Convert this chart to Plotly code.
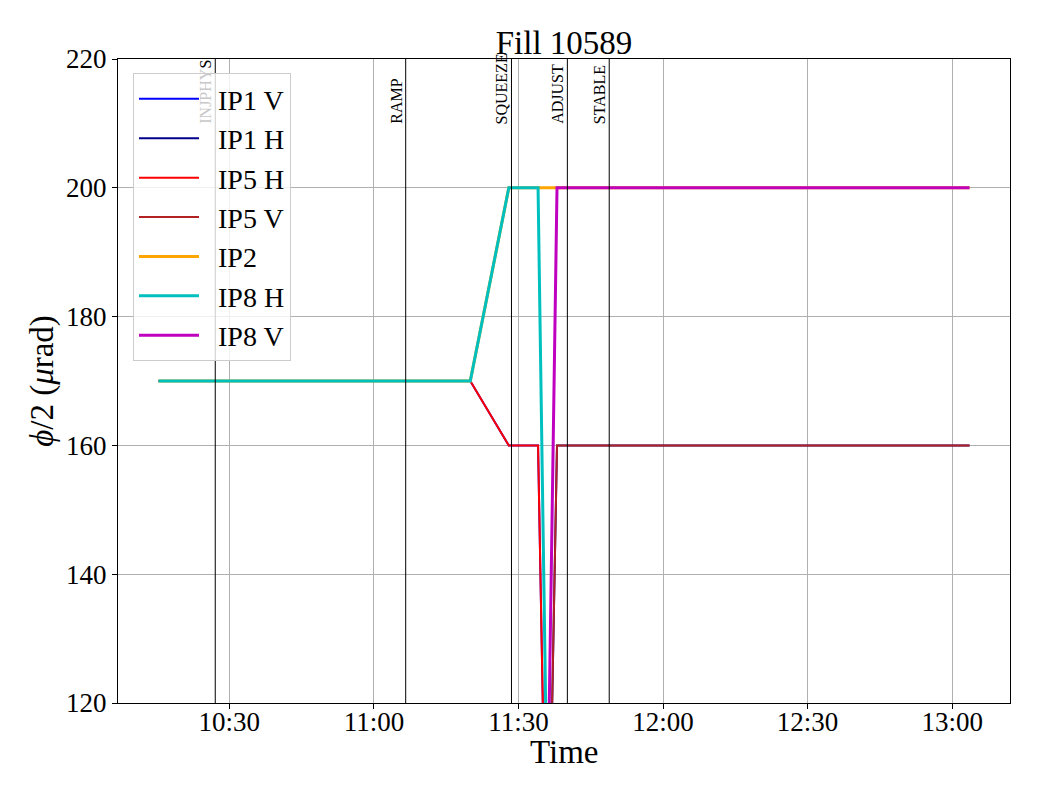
import plotly.graph_objects as go

DATE = "2025-05-10 "

# series data (time strings, values in µrad)
ip1v_t = ["10:15:18", "11:20:00", "11:28:00", "11:34:04", "11:38:00", "13:03:36"]
ip1v_v = [170, 170, 160, 160, 0, 0]
ip1h_t = ["10:15:18", "11:34:00", "11:38:00", "13:03:36"]
ip1h_v = [0, 0, 160, 160]
ip5h_t = ["10:15:18", "11:20:00", "11:28:00", "11:34:04", "11:38:00", "13:03:36"]
ip5h_v = [170, 170, 160, 160, 0, 0]
ip5v_t = ["10:15:18", "11:34:00", "11:38:00", "13:03:36"]
ip5v_v = [0, 0, 160, 160]
ip2_t = ["10:15:18", "11:20:00", "11:28:00", "13:03:36"]
ip2_v = [170, 170, 200, 200]
ip8h_t = ["10:15:18", "11:20:00", "11:28:00", "11:34:04", "11:38:00", "13:03:36"]
ip8h_v = [170, 170, 200, 200, 0, 0]
ip8v_t = ["10:15:18", "11:34:00", "11:38:00", "13:03:36"]
ip8v_v = [0, 0, 200, 200]

# beam modes
mode_names = ["INJPHYS", "RAMP", "SQUEEZE", "ADJUST", "STABLE"]
mode_times = ["10:27:05", "11:06:36", "11:28:33", "11:40:09", "11:48:50"]

x_range = ["10:06:54", "13:12:00"]
y_range = [120, 220]
y_ticks = [120, 140, 160, 180, 200, 220]

FONT = "Liberation Serif, Times New Roman, DejaVu Serif, serif"

series = [
    ("IP1 V", ip1v_t, ip1v_v, "#0000ff", 2),
    ("IP1 H", ip1h_t, ip1h_v, "#00008b", 2),
    ("IP5 H", ip5h_t, ip5h_v, "#ff0000", 2),
    ("IP5 V", ip5v_t, ip5v_v, "#b22222", 2),
    ("IP2", ip2_t, ip2_v, "#ffa500", 3),
    ("IP8 H", ip8h_t, ip8h_v, "#00bfbf", 3),
    ("IP8 V", ip8v_t, ip8v_v, "#bf00bf", 3),
]

fig = go.Figure()
for name, t, v, c, w in series:
    fig.add_trace(go.Scatter(
        x=[DATE + s for s in t], y=v, mode="lines",
        name="&nbsp;&nbsp;" + name,
        line=dict(color=c, width=w),
    ))

for name, t in zip(mode_names, mode_times):
    fig.add_shape(type="line", xref="x", yref="paper",
                  x0=DATE + t, x1=DATE + t, y0=0, y1=1,
                  line=dict(color="black", width=1), layer="above")
    label = name
    if name == "INJPHYS":
        # partly hidden behind the semi-transparent legend in the original
        label = "<span style='color:#c8c8c8'>INJPHY</span>S"
    fig.add_annotation(x=DATE + t, y=209.6, xref="x", yref="y",
                       text=label, textangle=-90, showarrow=False,
                       xanchor="right", yanchor="bottom", xshift=1,
                       font=dict(family=FONT, size=16, color="black"))

# x-axis title placed as paper annotation
fig.add_annotation(text="Time", xref="paper", yref="paper", x=0.5, y=0,
                   yshift=-49, xanchor="center", yanchor="middle",
                   showarrow=False, font=dict(size=33, family=FONT, color="black"))

W, H = 1032, 792  # page body offset of 8px
fig.update_layout(
    width=W, height=H,
    margin=dict(l=110, r=30, t=51, b=97, autoexpand=False),
    paper_bgcolor="white", plot_bgcolor="white",
    font=dict(family=FONT, color="black"),
    title=dict(text="Fill 10589", x=556 / W, xanchor="center",
               y=1 - 34 / H, yanchor="middle", yref="container",
               font=dict(size=33, family=FONT)),
    legend=dict(x=0.0168, y=0.978, xanchor="left", yanchor="top",
                bgcolor="rgba(255,255,255,0.8)", bordercolor="#cccccc",
                borderwidth=1, font=dict(size=28, family=FONT),
                itemwidth=60),
    showlegend=True,
)

fig.update_xaxes(
    range=[DATE + x_range[0], DATE + x_range[1]],
    tickformat="%H:%M", dtick=30 * 60 * 1000, tick0=DATE + "10:30:00",
    showgrid=True, gridcolor="#b0b0b0", gridwidth=1,
    showline=True, linecolor="black", linewidth=1, mirror=True,
    ticks="outside", ticklen=5, tickcolor="black",
    tickfont=dict(size=27, family=FONT), ticklabelstandoff=-10,
    zeroline=False, automargin=False,
)
fig.update_yaxes(
    range=y_range, tickvals=y_ticks,
    showgrid=True, gridcolor="#b0b0b0", gridwidth=1,
    showline=True, linecolor="black", linewidth=1, mirror=True,
    ticks="outside", ticklen=5, tickcolor="black",
    tickfont=dict(size=27, family=FONT),
    title=dict(text="<i>ϕ</i>/2 (<i>μ</i>rad)", font=dict(size=33, family=FONT), standoff=2),
    zeroline=False, automargin=False,
)

fig.write_html("out.html")
